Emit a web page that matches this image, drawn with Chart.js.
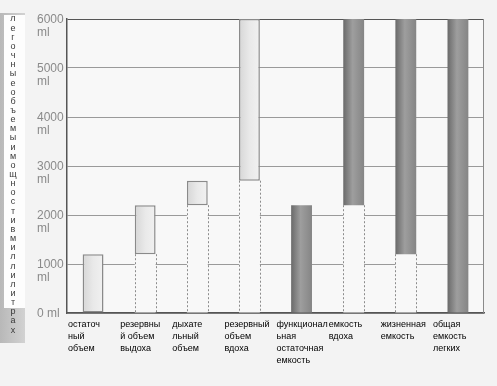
<!DOCTYPE html>
<html><head><meta charset="utf-8">
<script src="https://cdn.jsdelivr.net/npm/chart.js@4/dist/chart.umd.min.js"></script>
<style>html,body{margin:0;padding:0;background:#f3f3f3;} canvas{display:block;}</style>
</head><body>
<canvas id="c" width="497" height="386"></canvas>
<script>
// ---- data ----
const categories = [
  ['остаточ', 'ный', 'объем'],
  ['резервны', 'й объем', 'выдоха'],
  ['дыхате', 'льный', 'объем'],
  ['резервный', 'объем', 'вдоха'],
  ['функционал', 'ьная', 'остаточная', 'емкость'],
  ['емкость', 'вдоха'],
  ['жизненная', 'емкость'],
  ['общая', 'емкость', 'легких']
];
const lowValues  = [0, 1200, 2200, 2700, 0, 2200, 1200, 0];
const highValues = [1200, 2200, 2700, 6000, 2200, 6000, 6000, 6000];
const yTickValues = [0, 1000, 2000, 3000, 4000, 5000, 6000];
const yUnit = 'ml';
const axisTitle = 'легочные объемы и мощности в миллилитрах';

Chart.defaults.font.family = '"Liberation Sans", Arial, sans-serif';

const PLOT_BG = '#f8f8f8';

function barFill(c) {
  const chart = c.chart;
  const xs = chart.scales && chart.scales.x;
  const light = c.dataIndex < 4;
  if (!chart.chartArea || !xs) return light ? '#e8e8e8' : '#8c8c8c';
  const cx = xs.getPixelForValue(c.dataIndex);
  const half = xs.width / categories.length * 0.4 / 2;
  const g = chart.ctx.createLinearGradient(cx - half, 0, cx + half, 0);
  if (light) {
    g.addColorStop(0, '#d6d6d6'); g.addColorStop(0.5, '#e9e9e9'); g.addColorStop(1, '#f1f1f1');
  } else {
    g.addColorStop(0, '#6a6a6a'); g.addColorStop(0.45, '#9e9e9e'); g.addColorStop(1, '#858585');
  }
  return g;
}

const bgPlugin = {
  id: 'bg',
  beforeDraw(chart) {
    const { ctx, chartArea: a } = chart;
    ctx.save();
    ctx.fillStyle = '#f3f3f3'; ctx.fillRect(0, 0, chart.width, chart.height);
    ctx.fillStyle = PLOT_BG; ctx.fillRect(a.left, a.top, a.right - a.left, a.bottom - a.top);
    // left vertical caption strip
    const grd = ctx.createLinearGradient(0, 0, 25, 0);
    grd.addColorStop(0, '#b8b8b8'); grd.addColorStop(1, '#d2d2d2');
    ctx.fillStyle = grd; ctx.fillRect(0, 13, 25, 330);
    ctx.fillStyle = '#fdfdfd'; ctx.fillRect(4, 15, 21, 293);
    ctx.fillStyle = '#3a3a3a';
    ctx.font = '9px "Liberation Sans", Arial, sans-serif';
    ctx.textAlign = 'center'; ctx.textBaseline = 'middle';
    const letters = [...axisTitle.replace(/ /g, '')];
    letters.forEach((ch, i) => ctx.fillText(ch, 13, 19 + i * 9.15));
    ctx.restore();
  }
};

const overlayPlugin = {
  id: 'overlay',
  afterDatasetsDraw(chart) {
    const { ctx, chartArea: a } = chart;
    const meta = chart.getDatasetMeta(0);
    ctx.save();
    ctx.strokeStyle = '#8c8c8c'; ctx.lineWidth = 1; ctx.setLineDash([2, 2]);
    meta.data.forEach((el, i) => {
      if (!(lowValues[i] > 0)) return;
      const half = el.width / 2;
      [el.x - half, el.x + half].forEach(x => {
        const px = Math.round(x) + 0.5;
        ctx.beginPath(); ctx.moveTo(px, el.y); ctx.lineTo(px, el.base); ctx.stroke();
      });
    });
    ctx.setLineDash([]);
    ctx.strokeStyle = '#8a8a8a';
    ctx.beginPath(); ctx.moveTo(Math.round(a.right) - 0.5, a.top); ctx.lineTo(Math.round(a.right) - 0.5, a.bottom); ctx.stroke();
    ctx.restore();
  }
};

new Chart(document.getElementById('c'), {
  type: 'bar',
  data: {
    labels: categories,
    datasets: [
      {
        data: lowValues.map(v => v > 0 ? [0, v] : null),
        order: 2,
        backgroundColor: PLOT_BG,
        borderWidth: 0
      },
      {
        data: lowValues.map((v, i) => [v, highValues[i]]),
        order: 1,
        backgroundColor: barFill,
        borderColor: '#8a8a8a',
        borderWidth: c => c.dataIndex < 4 ? 1.5 : 0,
        borderSkipped: false
      }
    ]
  },
  options: {
    responsive: false,
    animation: false,
    devicePixelRatio: 1,
    layout: { padding: { left: 37, top: 19, right: 13, bottom: 0 } },
    plugins: { legend: { display: false }, tooltip: { enabled: false } },
    datasets: { bar: { grouped: false, barPercentage: 0.4, categoryPercentage: 1 } },
    scales: {
      x: {
        z: 1,
        grid: { display: false, drawTicks: false },
        border: { display: true, color: '#555', width: 1.5 },
        ticks: {
          autoSkip: false, maxRotation: 0, minRotation: 0,
          align: 'start', labelOffset: -25, padding: 5,
          color: '#000',
          font: { size: 9, lineHeight: 1.34 }
        },
        afterFit(s) { s.height = 73; s.paddingLeft = 0; s.paddingRight = 0; }
      },
      y: {
        min: 0, max: 6000,
        afterBuildTicks(s) { s.ticks = yTickValues.map(v => ({ value: v })); },
        grid: { drawTicks: false, color: c => (c.tick && c.tick.value === 6000) ? '#555' : '#9a9a9a', lineWidth: 1 },
        border: { color: '#555', width: 1.5 },
        ticks: {
          crossAlign: 'far', padding: 5, labelOffset: 7,
          color: '#8a8a8a',
          font: { size: 12, lineHeight: 1.1 },
          callback: v => v === 0 ? ['0 ' + yUnit, ''] : [String(v), yUnit]
        },
        afterFit(s) { s.width = 30; s.paddingTop = 0; s.paddingBottom = 0; }
      }
    }
  },
  plugins: [bgPlugin, overlayPlugin]
});
</script>
</body></html>
